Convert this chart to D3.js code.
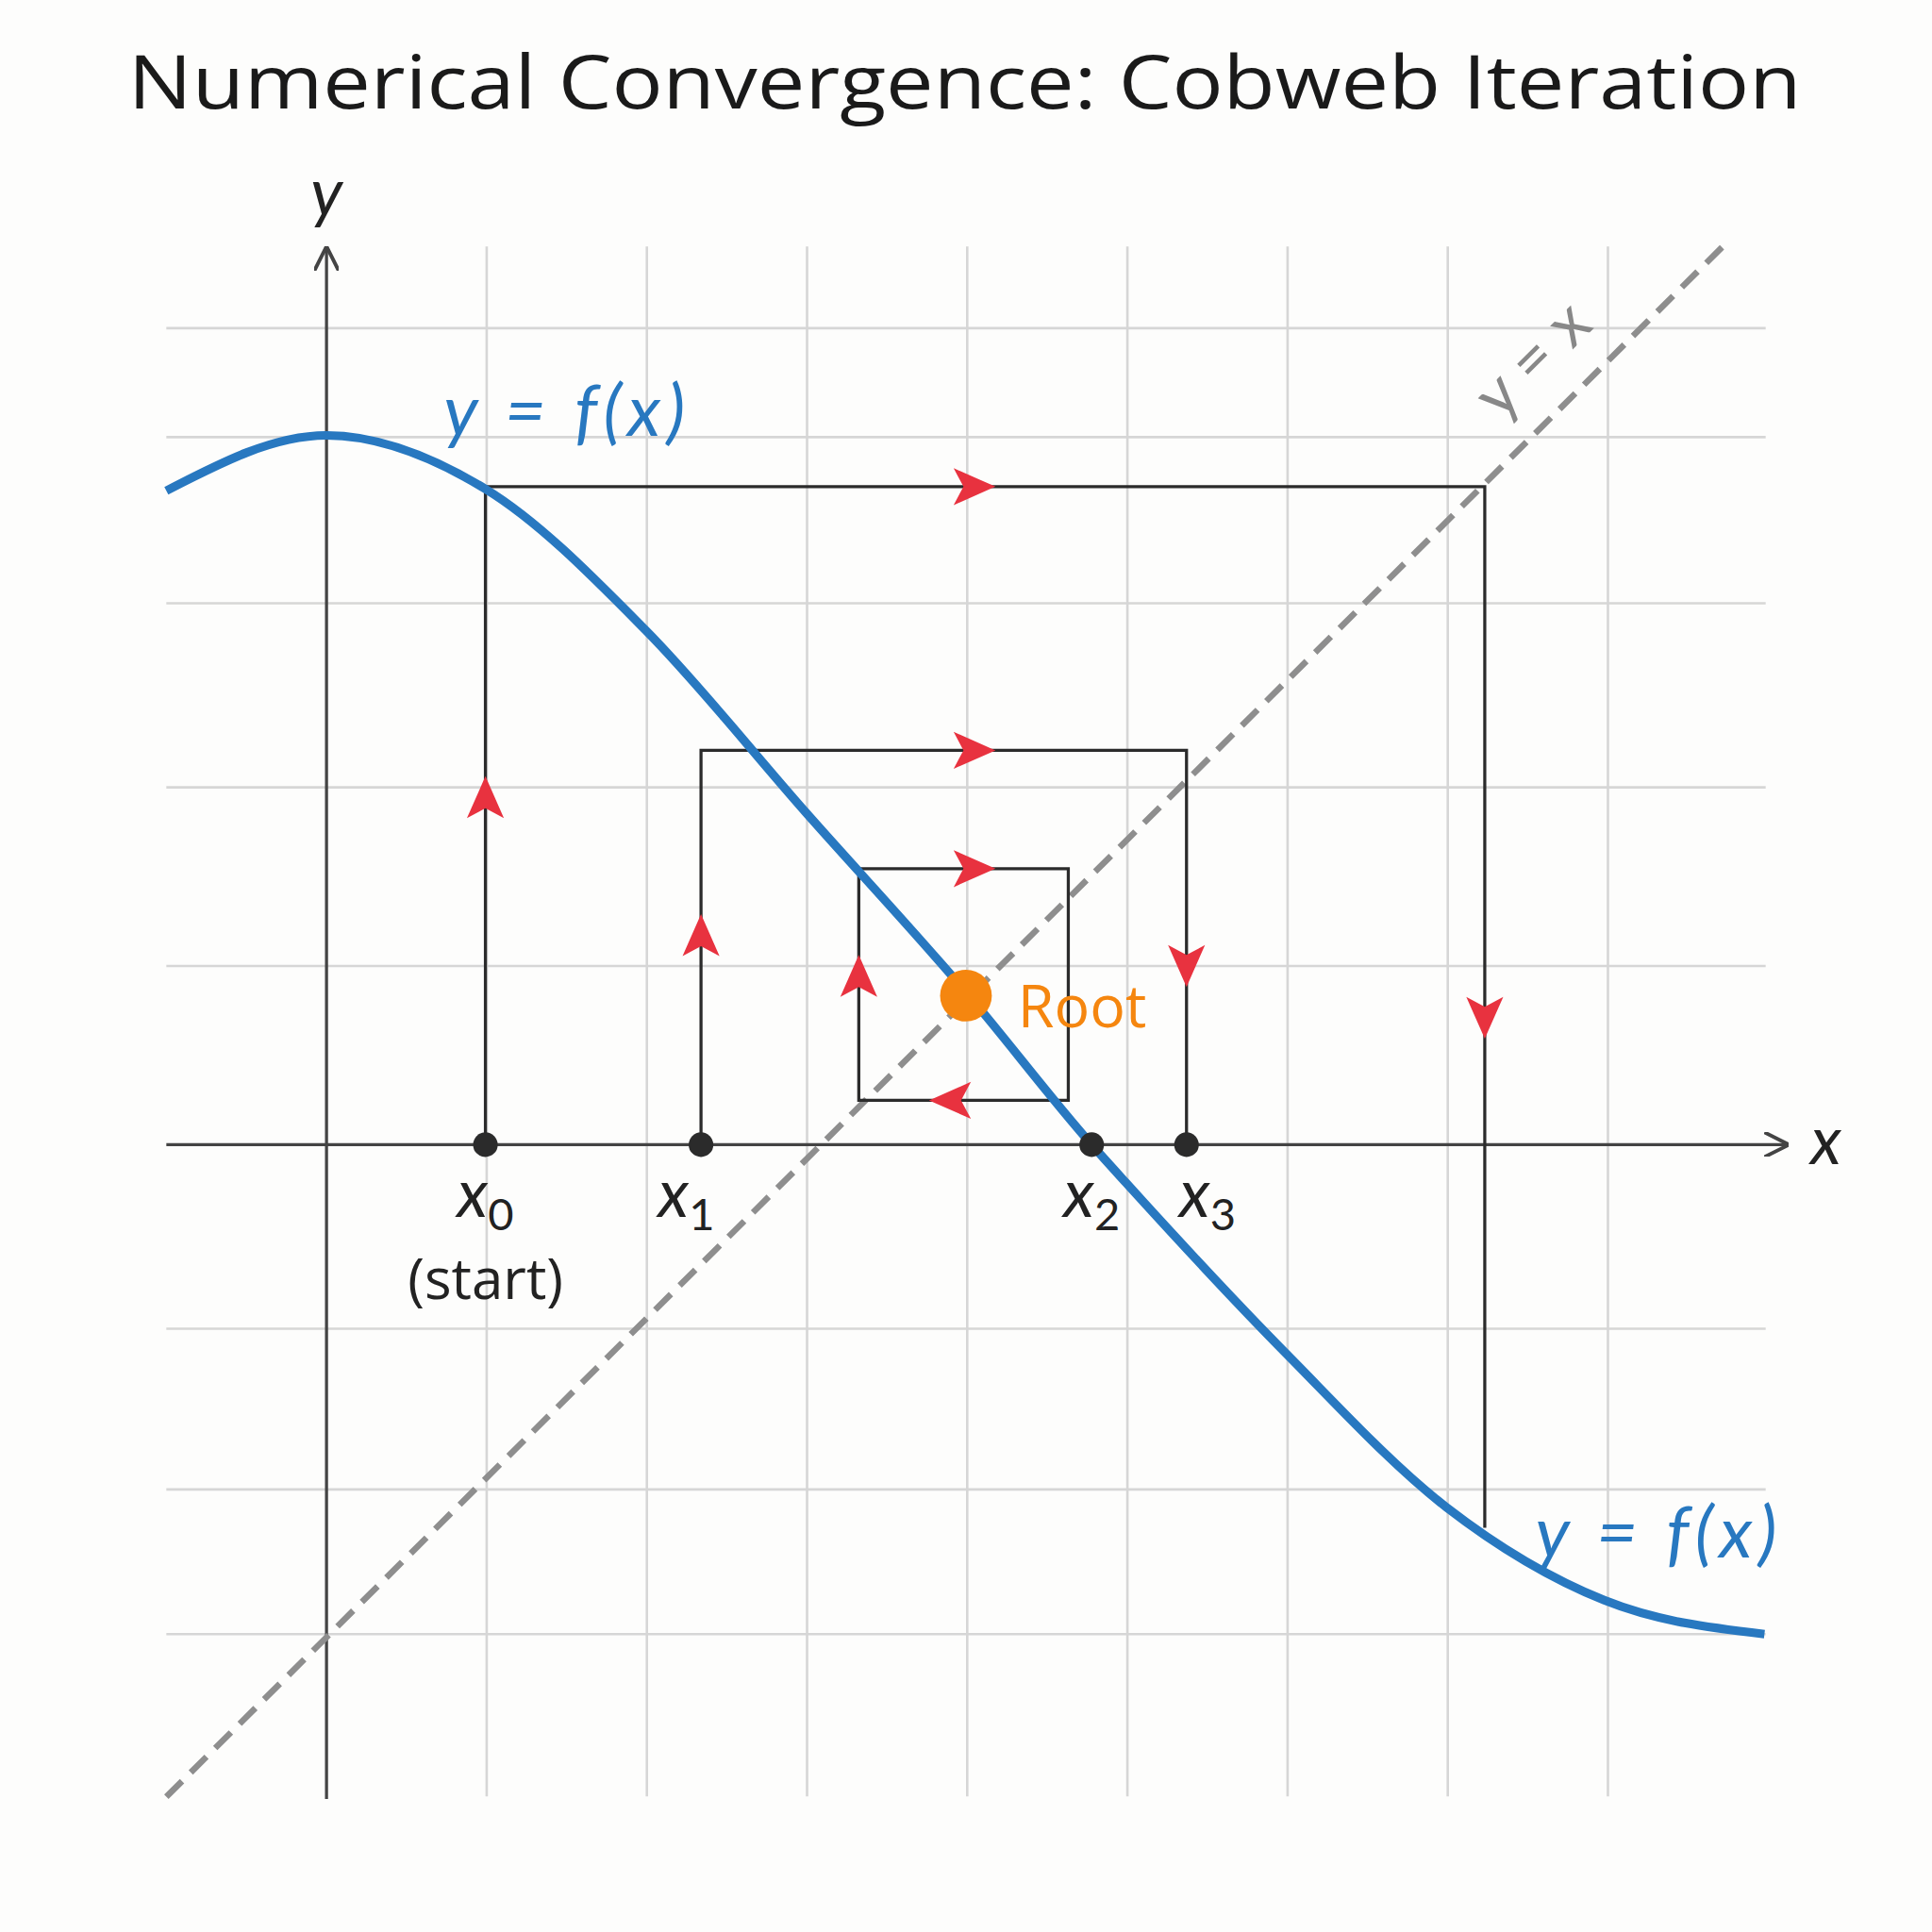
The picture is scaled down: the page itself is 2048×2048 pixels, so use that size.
<!DOCTYPE html>
<html><head><meta charset="utf-8">
<script src="https://cdn.jsdelivr.net/npm/d3@7"></script>
<style>body{margin:0;background:#fff}svg{display:block}</style>
</head><body>
<script>
// ---- data (in chart units) ----
const gridX = [1,2,3,4,5,6,7,8];
const gridY = [4.57,3.96,3.03,2,1,-1.03,-1.93,-2.74];
const curveX = [-1,0,0.992,1.992,2.992,3.992,4.777,4.992,5.992,6.992,7.977,8.977];
const curveY = [3.66,3.97,3.67,2.88,1.86,0.854,0,-0.214,-1.17,-2.03,-2.55,-2.74];
const diagX = [-1,8.72];
const diagY = [-3.65,5.03];
const web0 = [[0.992,0],[0.992,3.683],[7.231,3.683],[7.231,-2.145]];
const web1 = [[2.338,0],[2.338,2.207],[5.369,2.207],[5.369,0]];
const web2 = [[3.323,1.545],[4.631,1.545],[4.631,0.248],[3.323,0.248],[3.323,1.545]];
const arrows = [ // x, y, direction angle (deg, 0=right, -90=up)
 [4.038,3.683,0],[0.992,1.938,-90],[7.231,0.717,90],
 [4.038,2.207,0],[2.338,1.166,-90],[5.369,1.007,90],
 [4.038,1.545,0],[3.323,0.938,-90],[3.9,0.248,180]];
const iterX = [0.992,2.338,4.777,5.369];
const root = [3.992,0.834];

const W=1568;
const svg=d3.select("body").append("svg").attr("width",2048).attr("height",2048).attr("viewBox",`0 0 ${W} ${W}`);
const x=d3.scaleLinear().domain([-1,9]).range([135,1435]);
const y=d3.scaleLinear().domain([0,1]).range([929,784]);
const font="Lato, 'Noto Sans', sans-serif";

svg.append("rect").attr("width",W).attr("height",W).attr("fill","#fdfdfc");
svg.append("text").attr("x",104).attr("y",88).attr("font-family","'Open Sans', sans-serif")
 .attr("font-size",60).attr("fill","#1a1a1a").attr("textLength",1358).attr("lengthAdjust","spacingAndGlyphs")
 .text("Numerical Convergence: Cobweb Iteration");

const g=svg.append("g");
g.selectAll(".gx").data(gridX).join("line").attr("x1",d=>x(d)).attr("x2",d=>x(d)).attr("y1",200).attr("y2",1458).attr("stroke","#d6d6d6").attr("stroke-width",2);
g.selectAll(".gy").data(gridY).join("line").attr("y1",d=>y(d)).attr("y2",d=>y(d)).attr("x1",135).attr("x2",1433).attr("stroke","#d6d6d6").attr("stroke-width",2);

// axes
svg.append("defs").append("marker").attr("id","ah").attr("viewBox","0 0 10 10").attr("refX",9).attr("refY",5)
 .attr("markerWidth",8).attr("markerHeight",8).attr("orient","auto-start-reverse")
 .append("path").attr("d","M0,0 L10,5 L0,10").attr("fill","none").attr("stroke","#444").attr("stroke-width",1.5);
svg.append("line").attr("x1",135).attr("x2",1450).attr("y1",y(0)).attr("y2",y(0)).attr("stroke","#444").attr("stroke-width",2.5).attr("marker-end","url(#ah)");
svg.append("line").attr("x1",x(0)).attr("x2",x(0)).attr("y1",1460).attr("y2",202).attr("stroke","#444").attr("stroke-width",2.5).attr("marker-end","url(#ah)");
svg.append("text").attr("x",x(0)).attr("y",175).attr("text-anchor","middle").attr("font-family",font).attr("font-style","italic").attr("font-size",54).attr("fill","#222").text("y");
svg.append("text").attr("x",1482).attr("y",945).attr("text-anchor","middle").attr("font-family",font).attr("font-style","italic").attr("font-size",54).attr("fill","#222").text("x");

// diagonal
svg.append("line").attr("x1",x(diagX[0])).attr("y1",y(diagY[0])).attr("x2",x(diagX[1])).attr("y2",y(diagY[1]))
 .attr("stroke","#8e8e8e").attr("stroke-width",5).attr("stroke-dasharray","18,10");
svg.append("text").attr("transform","translate(1256,304) rotate(-45)").attr("text-anchor","middle").attr("font-family",font)
 .attr("font-size",52).attr("fill","#888").text("y = x");

// cobweb
const ln=d3.line().x(d=>x(d[0])).y(d=>y(d[1]));
[web0,web1,web2].forEach(w=>svg.append("path").attr("d",ln(w)).attr("fill","none").attr("stroke","#2b2b2b").attr("stroke-width",2.5));

// curve
const pts=curveX.map((v,i)=>[v,curveY[i]]);
svg.append("path").attr("d",d3.line().x(d=>x(d[0])).y(d=>y(d[1])).curve(d3.curveMonotoneX)(pts))
 .attr("fill","none").attr("stroke","#2878c0").attr("stroke-width",7);

// arrows
svg.selectAll(".ar").data(arrows).join("path").attr("d","M18,0 L-16,-15 L-8,0 L-16,15 Z")
 .attr("transform",d=>`translate(${x(d[0])},${y(d[1])}) rotate(${d[2]})`).attr("fill","#e8323f");

// dots
svg.selectAll(".dt").data(iterX).join("circle").attr("cx",d=>x(d)).attr("cy",y(0)).attr("r",10).attr("fill","#2b2b2b");
svg.append("circle").attr("cx",x(root[0])).attr("cy",y(root[1])).attr("r",21).attr("fill","#f5860f");
svg.append("text").attr("x",826).attr("y",834).attr("font-family","'Open Sans', sans-serif").attr("font-size",48).attr("fill","#f5860f").text("Root");

// iterate labels
const labs=[[394,"0"],[557,"1"],[886,"2"],[980,"3"]];
labs.forEach(([px,s])=>{
 const t=svg.append("text").attr("x",px).attr("y",988).attr("text-anchor","middle").attr("font-family",font).attr("font-size",54).attr("fill","#222");
 t.append("tspan").attr("font-style","italic").text("x");
 t.append("tspan").attr("font-size",36).attr("dy",10).text(s);
});
svg.append("text").attr("x",394).attr("y",1054).attr("text-anchor","middle").attr("font-family","'Open Sans', sans-serif").attr("font-size",46).attr("fill","#222").text("(start)");

// curve labels
[[360,354],[1246,1264]].forEach(([px,py])=>svg.append("text").attr("x",px).attr("y",py).attr("font-family",font)
 .attr("font-style","italic").attr("font-size",58).attr("fill","#2878c0").attr("textLength",196).attr("lengthAdjust","spacing").text("y = f(x)"));
</script>
</body></html>
